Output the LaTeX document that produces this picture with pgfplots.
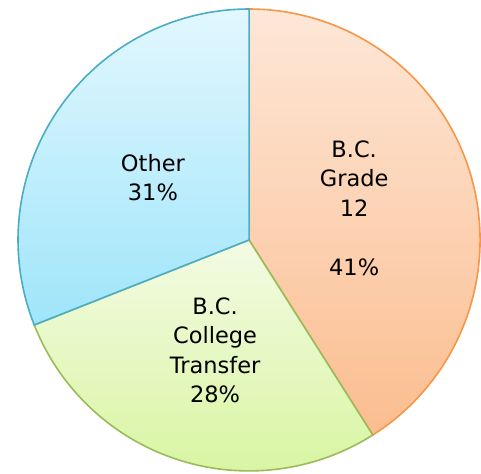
\documentclass[border=0pt]{standalone}
\usepackage{pgfplots}
\pgfplotsset{compat=1.18}
\usepackage{fontspec}
\setmainfont{DejaVu Sans}
\definecolor{oTop}{HTML}{FDE7D7}
\definecolor{oBot}{HTML}{FBBD8F}
\definecolor{oLine}{HTML}{F79646}
\definecolor{gTop}{HTML}{F3FBE4}
\definecolor{gBot}{HTML}{D9F5A3}
\definecolor{gLine}{HTML}{9BBB59}
\definecolor{bTop}{HTML}{E2F7FE}
\definecolor{bBot}{HTML}{9FE5FA}
\definecolor{bLine}{HTML}{4BACC6}
% slice values (percent), clockwise from 12 o'clock
\def\vGrade{41}
\def\vCollege{28}
\def\vOther{31}
\begin{document}
\begin{tikzpicture}
\begin{axis}[
  scale only axis, width=481pt, height=473pt,
  xmin=-1.078, xmax=1.004, ymin=-1.009, ymax=1.039,
  hide axis, clip=false,
  samples=90, smooth,
]
% B.C. Grade 12 : 41%
\addplot[draw=oLine, line width=1.6pt, top color=oTop, bottom color=oBot,
  domain={90-3.6*\vGrade}:90, variable=\t]
  ({cos(\t)},{sin(\t)}) -- (axis cs:0,0) -- cycle;
% B.C. College Transfer : 28%
\addplot[draw=gLine, line width=1.6pt, top color=gTop, bottom color=gBot,
  domain={90-3.6*(\vGrade+\vCollege)}:{90-3.6*\vGrade}, variable=\t]
  ({cos(\t)},{sin(\t)}) -- (axis cs:0,0) -- cycle;
% Other : 31%
\addplot[draw=bLine, line width=1.6pt, top color=bTop, bottom color=bBot,
  domain={90-3.6*(\vGrade+\vCollege+\vOther)}:{90-3.6*(\vGrade+\vCollege)}, variable=\t]
  ({cos(\t)},{sin(\t)}) -- (axis cs:0,0) -- cycle;

\node[align=center, inner sep=0pt, text=black, font=\fontsize{22.5}{29.5}\selectfont]
  at (axis cs:0.455,0.139) {B.C.\\Grade\\12\\[29.5pt]41\%};
\node[align=center, inner sep=0pt, text=black, font=\fontsize{22.5}{29.5}\selectfont]
  at (axis cs:-0.147,-0.478) {B.C.\\College\\Transfer\\28\%};
\node[align=center, inner sep=0pt, text=black, font=\fontsize{22.5}{29.5}\selectfont]
  at (axis cs:-0.416,0.271) {Other\\31\%};
\end{axis}
\pgfresetboundingbox
\useasboundingbox (current axis.south west) rectangle (current axis.north east);
\end{tikzpicture}
\end{document}
